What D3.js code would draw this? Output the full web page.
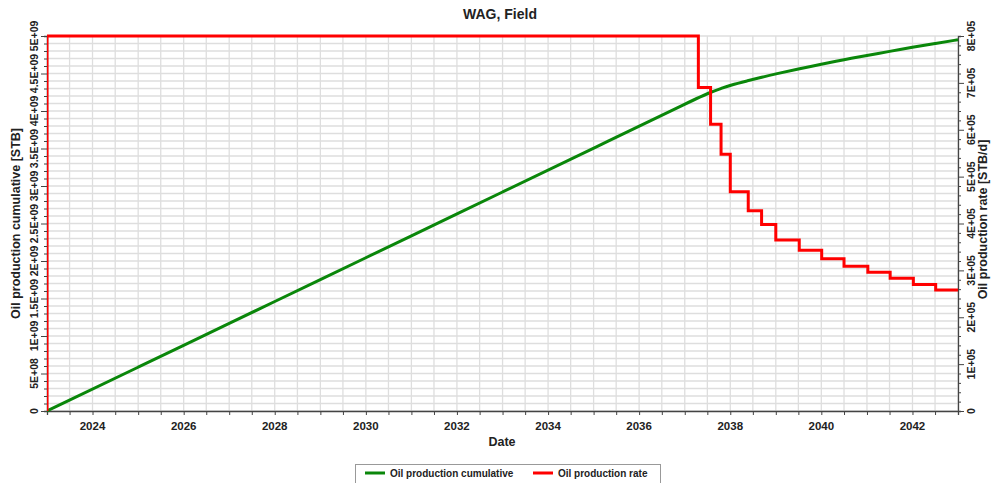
<!DOCTYPE html>
<html><head><meta charset="utf-8">
<script src="https://cdn.jsdelivr.net/npm/d3@7"></script>
<style>
html,body{margin:0;padding:0;background:#fff;overflow:hidden;}
text{font-family:"Liberation Sans",Arial,sans-serif;font-weight:bold;fill:#222;}
</style></head>
<body><svg id="chart" width="991" height="483"></svg>
<script>
// ---- data ----
const title = "WAG, Field";
const xLabel = "Date";
const yLeftLabel = "Oil production cumulative [STB]";
const yRightLabel = "Oil production rate [STB/d]";
const seriesNames = ["Oil production cumulative", "Oil production rate"];

const cumDates = ["2023-01-01","2025-01-01","2027-01-01","2029-01-01","2031-01-01","2033-01-01","2035-01-01",
  "2037-04-20","2037-07-27","2037-10-19","2038-01-01","2038-05-25","2038-09-09","2039-01-01","2039-07-01",
  "2040-01-01","2040-07-01","2041-01-01","2041-07-01","2042-01-01","2042-07-01","2043-01-01"];
const cumValues = [0, 0.584e9, 1.168e9, 1.752e9, 2.336e9, 2.92e9, 3.504e9,
  4.18e9, 4.25e9, 4.30e9, 4.345e9, 4.405e9, 4.45e9, 4.495e9, 4.56e9,
  4.625e9, 4.685e9, 4.74e9, 4.795e9, 4.85e9, 4.90e9, 4.95e9];

const rateDates = ["2023-01-01","2023-01-01","2037-04-20","2037-07-27","2037-10-19","2038-01-01","2038-05-25",
  "2038-09-09","2039-01-01","2039-07-08","2040-01-04","2040-07-01","2041-01-08","2041-07-06","2042-01-08",
  "2042-07-06","2043-01-01"];
const rateValues = [0, 8.0e5, 6.9e5, 6.12e5, 5.48e5, 4.68e5, 4.27e5,
  3.98e5, 3.65e5, 3.43e5, 3.25e5, 3.09e5, 2.96e5, 2.83e5, 2.70e5,
  2.58e5, 2.58e5];

const leftTicks = [0,5e8,1e9,1.5e9,2e9,2.5e9,3e9,3.5e9,4e9,4.5e9,5e9];
const leftTickLabels = ["0","5E+08","1E+09","1.5E+09","2E+09","2.5E+09","3E+09","3.5E+09","4E+09","4.5E+09","5E+09"];
const rightTicks = [0,1e5,2e5,3e5,4e5,5e5,6e5,7e5,8e5];
const rightTickLabels = ["0","1E+05","2E+05","3E+05","4E+05","5E+05","6E+05","7E+05","8E+05"];
const xTickYears = [2024,2026,2028,2030,2032,2034,2036,2038,2040,2042];

// ---- layout ----
const L = 47, R = 958, T = 36, B = 411;
const parse = d3.timeParse("%Y-%m-%d");
const svg = d3.select("#chart");

const x = d3.scaleTime().domain([new Date(2023,0,1), new Date(2043,0,1)]).range([L, R]);
const yL = d3.scaleLinear().domain([0, 5e9]).range([B, T]);
const yR = d3.scaleLinear().domain([0, 8e5]).range([B, T]);

// grid
const grid = svg.append("g").attr("stroke", "#dedede").attr("stroke-width", 1.3);
const halfYears = d3.timeMonth.every(6).range(new Date(2023,0,1), new Date(2043,0,2));
grid.selectAll("line.v").data(halfYears).join("line")
  .attr("x1", d => x(d)).attr("x2", d => x(d)).attr("y1", T).attr("y2", B);
grid.selectAll("line.h").data(d3.range(0, 5e9 + 1, 1e8)).join("line")
  .attr("x1", L).attr("x2", R).attr("y1", d => yL(d)).attr("y2", d => yL(d));

// axes
const axisColor = "#444";
const xAxis = svg.append("g").attr("transform", `translate(0,${B})`)
  .call(d3.axisBottom(x).tickValues(halfYears).tickSize(4).tickFormat(""));
xAxis.select(".domain").attr("stroke", axisColor).attr("stroke-width", 1.3);
xAxis.selectAll(".tick line").attr("stroke", axisColor);
svg.append("g").selectAll("text").data(xTickYears).join("text")
  .attr("x", d => x(new Date(d,0,1))).attr("y", 430)
  .attr("text-anchor", "middle").attr("font-size", 11.5).text(d => d);

const yLAxis = svg.append("g").attr("transform", `translate(${L},0)`)
  .call(d3.axisLeft(yL).tickValues(d3.range(0, 5e9 + 1, 1e8)).tickSize(3).tickFormat(""));
yLAxis.select(".domain").attr("stroke", axisColor).attr("stroke-width", 1.3);
yLAxis.selectAll(".tick line").attr("stroke", axisColor).attr("x2", (d) => (Math.round(d / 1e8) % 5 === 0) ? -6 : -3);
svg.append("g").selectAll("text").data(leftTicks).join("text")
  .attr("transform", d => `translate(38,${yL(d)}) rotate(-90)`)
  .attr("text-anchor", "middle").attr("font-size", 10.5).text((d, i) => leftTickLabels[i]);

const yRAxis = svg.append("g").attr("transform", `translate(${R},0)`)
  .call(d3.axisRight(yR).tickValues(d3.range(0, 8e5 + 1, 2e4)).tickSize(3).tickFormat(""));
yRAxis.select(".domain").attr("stroke", axisColor).attr("stroke-width", 1.3);
yRAxis.selectAll(".tick line").attr("stroke", axisColor).attr("x2", (d) => (Math.round(d / 2e4) % 5 === 0) ? 6 : 3);
svg.append("g").selectAll("text").data(rightTicks).join("text")
  .attr("transform", d => `translate(975,${yR(d)}) rotate(-90)`)
  .attr("text-anchor", "middle").attr("font-size", 10.5).text((d, i) => rightTickLabels[i]);

// clip
svg.append("defs").append("clipPath").attr("id", "clip")
  .append("rect").attr("x", L).attr("y", 0).attr("width", R - L + 2).attr("height", B + 2);

// series
const cumData = cumDates.map((d, i) => ({ d: parse(d), v: cumValues[i] }));
const rateData = rateDates.map((d, i) => ({ d: parse(d), v: rateValues[i] }));
const plot = svg.append("g").attr("clip-path", "url(#clip)");
plot.append("path").datum(cumData)
  .attr("fill", "none").attr("stroke", "#0a870a").attr("stroke-width", 3)
  .attr("d", d3.line().x(p => x(p.d)).y(p => yL(p.v)).curve(d3.curveBasis));
plot.append("path").datum(rateData)
  .attr("fill", "none").attr("stroke", "#ff0000").attr("stroke-width", 3)
  .attr("d", d3.line().x(p => x(p.d)).y(p => yR(p.v)).curve(d3.curveStepAfter));

// titles
svg.append("text").attr("x", 500).attr("y", 19).attr("text-anchor", "middle").attr("font-size", 14).text(title);
svg.append("text").attr("x", 502).attr("y", 446).attr("text-anchor", "middle").attr("font-size", 12.5).text(xLabel);
svg.append("text").attr("transform", `translate(20,${(T + B) / 2}) rotate(-90)`)
  .attr("text-anchor", "middle").attr("font-size", 12.5).text(yLeftLabel);
svg.append("text").attr("transform", `translate(987,${(T + B) / 2 - 4}) rotate(-90)`)
  .attr("text-anchor", "middle").attr("font-size", 12.5).text(yRightLabel);

// legend
const lg = svg.append("g");
lg.append("rect").attr("x", 355.5).attr("y", 464.5).attr("width", 305).attr("height", 30)
  .attr("fill", "#fff").attr("stroke", "#999");
const legendColors = ["#0a870a", "#ff0000"];
const legendX = [365, 533];
seriesNames.forEach((n, i) => {
  lg.append("line").attr("x1", legendX[i]).attr("x2", legendX[i] + 20).attr("y1", 473).attr("y2", 473)
    .attr("stroke", legendColors[i]).attr("stroke-width", 3);
  lg.append("text").attr("x", legendX[i] + 25).attr("y", 477).attr("font-size", 10).text(n);
});
</script></body></html>
